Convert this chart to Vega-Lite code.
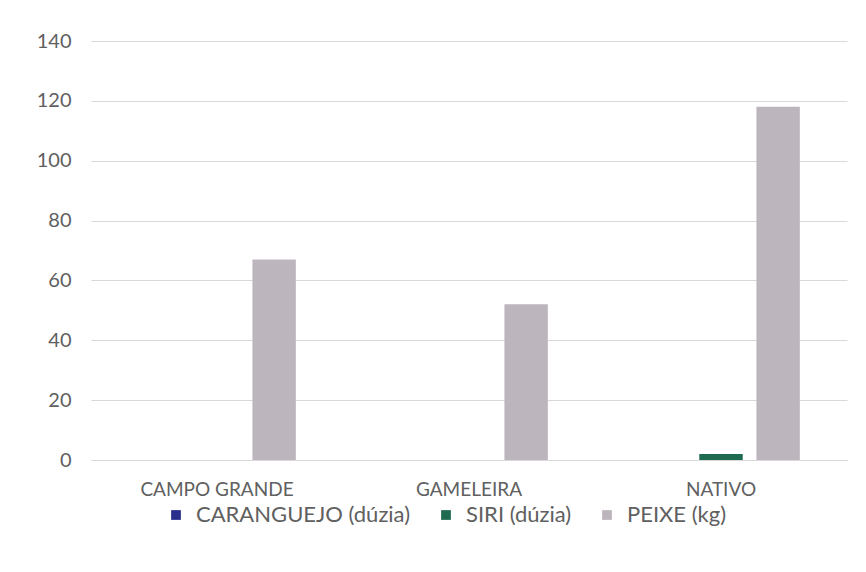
{
  "$schema": "https://vega.github.io/schema/vega-lite/v6.json",
  "autosize": "none",
  "width": 756,
  "height": 419,
  "padding": {"left": 91, "top": 41, "right": 19, "bottom": 112},
  "background": "white",
  "data": {
    "values": [
      {"local": "CAMPO GRANDE", "serie": "CARANGUEJO (dúzia)", "valor": 0},
      {"local": "CAMPO GRANDE", "serie": "SIRI (dúzia)", "valor": 0},
      {"local": "CAMPO GRANDE", "serie": "PEIXE (kg)", "valor": 67},
      {"local": "GAMELEIRA", "serie": "CARANGUEJO (dúzia)", "valor": 0},
      {"local": "GAMELEIRA", "serie": "SIRI (dúzia)", "valor": 0},
      {"local": "GAMELEIRA", "serie": "PEIXE (kg)", "valor": 52},
      {"local": "NATIVO", "serie": "CARANGUEJO (dúzia)", "valor": 0},
      {"local": "NATIVO", "serie": "SIRI (dúzia)", "valor": 2},
      {"local": "NATIVO", "serie": "PEIXE (kg)", "valor": 118}
    ]
  },
  "mark": {"type": "bar"},
  "encoding": {
    "x": {
      "field": "local",
      "type": "nominal",
      "sort": ["CAMPO GRANDE", "GAMELEIRA", "NATIVO"],
      "scale": {"paddingInner": 0.32, "paddingOuter": 0.16},
      "axis": {
        "title": null,
        "labelAngle": 0,
        "ticks": false,
        "domain": true,
        "domainColor": "#D9D9D9",
        "labelFont": "Lato",
        "labelFontSize": 19,
        "labelColor": "#606060",
        "labelPadding": 20
      }
    },
    "xOffset": {
      "field": "serie",
      "type": "nominal",
      "sort": ["CARANGUEJO (dúzia)", "SIRI (dúzia)", "PEIXE (kg)"],
      "scale": {"paddingInner": 0.24, "paddingOuter": 0.12}
    },
    "y": {
      "field": "valor",
      "type": "quantitative",
      "scale": {"domain": [0, 140], "nice": false},
      "axis": {
        "title": null,
        "values": [0, 20, 40, 60, 80, 100, 120, 140],
        "domain": false,
        "ticks": false,
        "gridColor": "#D9D9D9",
        "labelFont": "Lato",
        "labelFontSize": 20,
        "labelColor": "#606060",
        "labelPadding": 20
      }
    },
    "color": {
      "field": "serie",
      "type": "nominal",
      "sort": ["CARANGUEJO (dúzia)", "SIRI (dúzia)", "PEIXE (kg)"],
      "scale": {
        "domain": ["CARANGUEJO (dúzia)", "SIRI (dúzia)", "PEIXE (kg)"],
        "range": ["#2B2F8C", "#1F6B4F", "#BDB5BD"]
      },
      "legend": {
        "title": null,
        "orient": "none",
        "direction": "horizontal",
        "legendX": 74,
        "legendY": 463,
        "symbolType": "square",
        "symbolSize": 95,
        "symbolStrokeWidth": 0,
        "labelFont": "Lato",
        "labelFontSize": 22,
        "labelColor": "#606060",
        "labelOffset": 9,
        "labelLimit": 0,
        "columnPadding": 24
      }
    }
  },
  "config": {"view": {"stroke": null}}
}
